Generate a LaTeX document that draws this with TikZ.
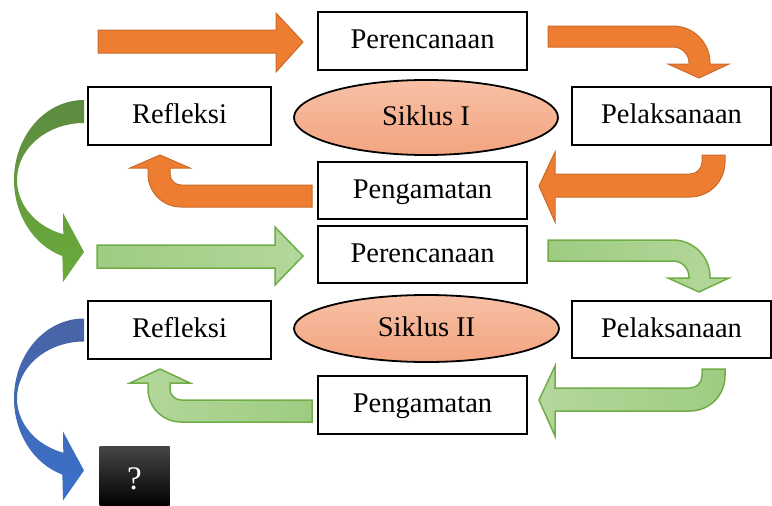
\documentclass[tikz,border=0pt]{standalone}
\usepackage{fontspec}
\setmainfont{Liberation Serif}
\usetikzlibrary{shapes.geometric}
\definecolor{orFill}{RGB}{237,125,49}
\definecolor{orLine}{RGB}{205,105,40}
\definecolor{grA}{RGB}{158,204,130}
\definecolor{grB}{RGB}{180,215,155}
\definecolor{grLine}{RGB}{112,173,71}
\definecolor{salTop}{RGB}{247,192,165}
\definecolor{salBot}{RGB}{243,164,128}
\definecolor{gcTop}{RGB}{93,138,65}
\definecolor{gcBot}{RGB}{106,172,58}
\definecolor{blTop}{RGB}{72,100,165}
\definecolor{blBot}{RGB}{58,112,202}
\definecolor{qTop}{RGB}{70,70,70}
\begin{document}
\begin{tikzpicture}[x=1pt,y=1pt,
  lbl/.style={font=\fontsize{28.5}{32}\selectfont, text height=20pt, text depth=5pt},
  box/.style={lbl, draw=black, line width=1.8pt, fill=white, inner sep=0pt, minimum height=58pt},
  cyc/.style={lbl, ellipse, draw=black, line width=1.8pt, top color=salTop, bottom color=salBot, inner sep=0pt},
  qbox/.style={font=\fontsize{33}{36}\selectfont, text height=25pt, text depth=0pt, top color=qTop, bottom color=black, text=white, inner sep=0pt},
  orarrow/.style={fill=orFill, draw=orLine, line width=1pt, line join=miter},
  grarrow/.style={left color=grA, right color=grB, draw=grLine, line width=1.5pt, line join=miter},
  grarrowR/.style={left color=grB, right color=grA, draw=grLine, line width=1.5pt, line join=miter}]
\useasboundingbox (0,0) rectangle (772,-506);

% ---- block arrows, cycle I (orange)
\draw[orarrow] (98,-30) -- (276,-30) -- (276,-13) -- (303,-42) -- (276,-72) -- (276,-53) -- (98,-53) -- cycle;
\draw[orarrow] (548,-26) -- (673,-26) arc[start angle=90,end angle=0,radius=37] -- (710,-64) -- (729,-64) -- (699,-78) -- (668,-64) -- (689,-64) -- (689,-63) arc[start angle=0,end angle=90,radius=16] -- (548,-47) -- cycle;
\draw[orarrow] (702,-155) -- (725,-155) -- (725,-162) arc[start angle=0,end angle=-90,radius=35] -- (555,-197) -- (555,-222) -- (539,-186) -- (555,-152) -- (555,-174) -- (690,-174) arc[start angle=-90,end angle=0,radius=12] -- cycle;
\draw[orarrow] (312,-185) -- (312,-207) -- (181,-207) arc[start angle=270,end angle=180,radius=33] -- (148,-168) -- (130,-168) -- (160,-155) -- (190,-168) -- (170,-168) -- (170,-174) arc[start angle=180,end angle=270,radius=11] -- cycle;

% ---- block arrows, cycle II (green)
\draw[grarrow] (97,-245) -- (275,-245) -- (275,-227) -- (303,-256) -- (275,-285) -- (275,-268) -- (97,-268) -- cycle;
\draw[grarrow] (548,-240) -- (673,-240) arc[start angle=90,end angle=0,radius=37] -- (710,-278) -- (729,-278) -- (699,-292) -- (668,-278) -- (689,-278) -- (689,-277) arc[start angle=0,end angle=90,radius=16] -- (548,-261) -- cycle;
\draw[grarrowR] (702,-369) -- (725,-369) -- (725,-376) arc[start angle=0,end angle=-90,radius=35] -- (555,-411) -- (555,-436) -- (539,-400) -- (555,-366) -- (555,-388) -- (690,-388) arc[start angle=-90,end angle=0,radius=12] -- cycle;
\draw[grarrowR] (312,-400) -- (312,-422) -- (181,-422) arc[start angle=270,end angle=180,radius=33] -- (148,-389) -- (148,-383) -- (130,-383) -- (160,-369) -- (190,-383) -- (170,-383) -- (170,-389) arc[start angle=180,end angle=270,radius=11] -- cycle;

% ---- curved arrows on the left
\shade[top color=gcTop, bottom color=gcBot] (84,-100) arc[start angle=90,end angle=252,x radius=70,y radius=80] -- (63,-282) -- (84,-252) -- (63,-213) -- (63.3,-234.2) arc[start angle=252,end angle=90,x radius=67,y radius=57] -- cycle;
\begin{scope}[yshift=-218.5pt]
\shade[top color=blTop, bottom color=blBot] (84,-100) arc[start angle=90,end angle=252,x radius=70,y radius=80] -- (63,-282) -- (84,-252) -- (63,-213) -- (63.3,-234.2) arc[start angle=252,end angle=90,x radius=67,y radius=57] -- cycle;
\end{scope}

% ---- nodes
\node[box, minimum width=209pt] (p1) at (422.5,-41) {Perencanaan};
\node[box, minimum width=183pt] (r1) at (179.5,-116) {Refleksi};
\node[cyc, minimum width=264pt, minimum height=75pt] (s1) at (426,-117.5) {Siklus I};
\node[box, minimum width=199pt] (l1) at (671.5,-116) {Pelaksanaan};
\node[box, minimum width=209pt, minimum height=57pt] (g1) at (422.5,-190.5) {Pengamatan};

\node[box, minimum width=209pt, minimum height=57pt] (p2) at (422.5,-254.5) {Perencanaan};
\node[box, minimum width=183pt] (r2) at (179.5,-330) {Refleksi};
\node[cyc, minimum width=265pt, minimum height=67pt] (s2) at (426.5,-328.5) {Siklus II};
\node[box, minimum width=199pt, minimum height=57pt] (l2) at (671.5,-329.5) {Pelaksanaan};
\node[box, minimum width=209pt] (g2) at (422.5,-405) {Pengamatan};

\node[qbox, minimum width=70pt, minimum height=60pt] (q) at (134.5,-476.5) {?};
\end{tikzpicture}
\end{document}
